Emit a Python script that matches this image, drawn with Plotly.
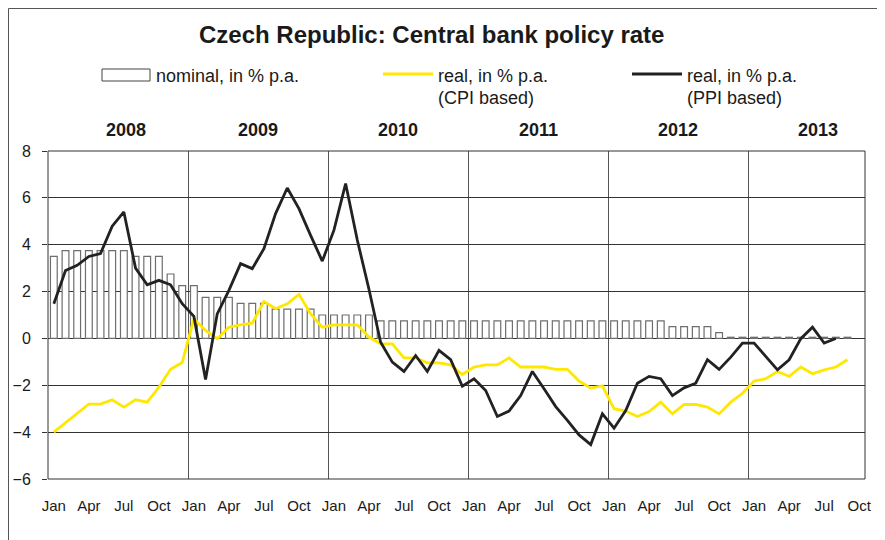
import plotly.graph_objects as go

# Monthly data, Jan 2008 .. Oct 2013 (70 months; last months without data)
years = ["2008", "2009", "2010", "2011", "2012", "2013"]
month_labels = ["Jan", "Apr", "Jul", "Oct"]

nominal = [3.5, 3.75, 3.75, 3.75, 3.75, 3.75, 3.75, 3.5, 3.5, 3.5, 2.75, 2.25,
           2.25, 1.75, 1.75, 1.75, 1.5, 1.5, 1.5, 1.25, 1.25, 1.25, 1.25, 1.0,
           1.0, 1.0, 1.0, 1.0, 0.75, 0.75, 0.75, 0.75, 0.75, 0.75, 0.75, 0.75,
           0.75, 0.75, 0.75, 0.75, 0.75, 0.75, 0.75, 0.75, 0.75, 0.75, 0.75, 0.75,
           0.75, 0.75, 0.75, 0.75, 0.75, 0.5, 0.5, 0.5, 0.5, 0.25, 0.05, 0.05,
           0.05, 0.05, 0.05, 0.05, 0.05, 0.05, 0.05, 0.05, 0.05, None]

real_cpi = [-4.0, -3.6, -3.2, -2.8, -2.8, -2.62, -2.93, -2.62, -2.72, -2.08, -1.32, -1.03,
            0.84, 0.34, -0.01, 0.48, 0.58, 0.65, 1.58, 1.27, 1.48, 1.88, 1.05, 0.48,
            0.58, 0.58, 0.58, 0.06, -0.23, -0.23, -0.83, -0.83, -1.04, -1.04, -1.13, -1.54,
            -1.22, -1.13, -1.13, -0.83, -1.22, -1.22, -1.22, -1.32, -1.32, -1.82, -2.12, -2.02,
            -3.0, -3.1, -3.33, -3.12, -2.72, -3.22, -2.82, -2.82, -2.93, -3.22, -2.72, -2.34,
            -1.82, -1.72, -1.41, -1.62, -1.22, -1.51, -1.34, -1.22, -0.91, None]

real_ppi = [1.48, 2.9, 3.12, 3.5, 3.62, 4.79, 5.4, 3.0, 2.29, 2.48, 2.29, 1.48,
            0.94, -1.75, 1.05, 2.05, 3.19, 2.98, 3.83, 5.33, 6.42, 5.54, 4.4, 3.3,
            4.62, 6.61, 4.2, 2.1, -0.16, -1.01, -1.41, -0.73, -1.41, -0.51, -0.91, -2.04,
            -1.72, -2.22, -3.33, -3.1, -2.44, -1.41, -2.15, -2.91, -3.5, -4.12, -4.53, -3.22,
            -3.83, -3.08, -1.91, -1.62, -1.72, -2.44, -2.11, -1.91, -0.91, -1.32, -0.8, -0.2,
            -0.2, -0.77, -1.34, -0.91, -0.01, 0.48, -0.2, 0.0, None, None]

x = list(range(len(nominal)))
FONT = "Liberation Sans, Arial, sans-serif"
TXT = "#1a1a1a"

# the page body adds an 8px offset; positions below are given in screen pixels
OFF = 8
W, H = 885 - OFF, 540 - OFF
L, R, T, B = 48 - OFF, 865 - OFF, 151 - OFF, 479 - OFF


def px(sx):
    return (sx - OFF - L) / (R - L)


def py(sy):
    return (B - (sy - OFF)) / (B - T)


fig = go.Figure()
fig.add_trace(go.Bar(
    x=x, y=nominal, name="nominal, in % p.a.",
    marker=dict(color="white", line=dict(color="#6e6e6e", width=1.2)),
))
fig.add_trace(go.Scatter(
    x=x, y=real_cpi, mode="lines", name="real, in % p.a. (CPI based)",
    line=dict(color="#ffe800", width=2.8), connectgaps=False,
))
fig.add_trace(go.Scatter(
    x=x, y=real_ppi, mode="lines", name="real, in % p.a. (PPI based)",
    line=dict(color="#222222", width=2.8), connectgaps=False,
))

shapes = [
    # outer frame
    dict(type="rect", xref="paper", yref="paper", x0=px(OFF + 0.5), x1=px(878), y0=py(560),
         y1=py(OFF + 0.5), line=dict(color="#555555", width=1), layer="below"),
    # plot border
    dict(type="rect", xref="paper", yref="paper", x0=0, x1=1, y0=0, y1=1,
         line=dict(color="#333333", width=1)),
    # legend symbols
    dict(type="rect", xref="paper", yref="paper", x0=px(102), x1=px(150), y0=py(81), y1=py(69),
         line=dict(color="#444444", width=1), fillcolor="white"),
    dict(type="line", xref="paper", yref="paper", x0=px(383), x1=px(433), y0=py(74), y1=py(74),
         line=dict(color="#ffe800", width=2.8)),
    dict(type="line", xref="paper", yref="paper", x0=px(632), x1=px(682), y0=py(74), y1=py(74),
         line=dict(color="#222222", width=2.8)),
]

annotations = [
    dict(text="Czech Republic: Central bank policy rate", xref="paper", yref="paper",
         x=px(431), y=py(35), showarrow=False, xanchor="center", yanchor="middle",
         font=dict(size=24, color=TXT, family=FONT, weight="bold")),
    dict(text="nominal, in % p.a.", x=px(154), y=py(76)),
    dict(text="real, in % p.a.", x=px(436), y=py(76)),
    dict(text="(CPI based)", x=px(436), y=py(98)),
    dict(text="real, in % p.a.", x=px(685), y=py(76)),
    dict(text="(PPI based)", x=px(685), y=py(98)),
]
for a in annotations[1:]:
    a.update(xref="paper", yref="paper", showarrow=False, xanchor="left", yanchor="middle",
             font=dict(size=18, color=TXT, family=FONT))

for i, yr in enumerate(years):
    annotations.append(dict(
        text=yr, x=5.5 + 12 * i + (0.7 if i == 0 else 0), xref="x", y=py(130), yref="paper",
        showarrow=False, xanchor="center", yanchor="middle",
        font=dict(size=18, color=TXT, family=FONT, weight="bold"),
    ))

tickvals = list(range(0, len(x), 3))
ticktext = [month_labels[(v // 3) % 4] for v in tickvals]

fig.update_layout(
    width=W, height=H,
    margin=dict(l=L, r=W - R, t=T, b=H - B, pad=0, autoexpand=False),
    paper_bgcolor="white", plot_bgcolor="white",
    showlegend=False, bargap=0.42,
    font=dict(family=FONT, color=TXT),
    shapes=shapes, annotations=annotations,
)
fig.update_xaxes(
    range=[-0.5, len(x) - 0.5], tickvals=tickvals, ticktext=ticktext,
    showgrid=False, zeroline=False, showline=False, ticks="", ticklabelstandoff=16,
    tickfont=dict(size=15, family=FONT, color=TXT),
    minor=dict(tick0=-0.5, dtick=12, showgrid=True, gridcolor="#555555", gridwidth=1),
)
fig.update_yaxes(
    range=[-6, 8], dtick=2, showgrid=True, gridcolor="#333333", gridwidth=1,
    zeroline=True, zerolinecolor="#333333", zerolinewidth=1,
    ticks="outside", ticklen=5, tickcolor="#333333", ticklabelstandoff=8,
    tickfont=dict(size=16, family=FONT, color=TXT),
)

fig.write_html("out.html")
